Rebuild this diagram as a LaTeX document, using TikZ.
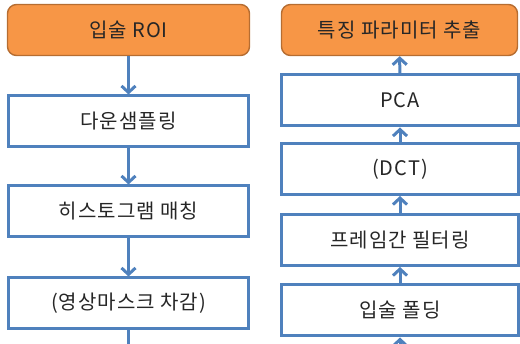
\documentclass[tikz,border=0pt]{standalone}
\usepackage{fontspec}
\setmainfont{Noto Sans CJK KR}[LetterSpace=5]
\usepackage{xcolor}
\usepackage{tikz}
\usetikzlibrary{
    positioning,
    arrows.meta
}
\definecolor{lineblue}{HTML}{4F81BD}
\definecolor{boxorange}{HTML}{F79646}
\definecolor{edgeorange}{HTML}{B66D31}

\begin{document}
\begin{tikzpicture}[
      x=1pt, y=-1pt,
      block/.style={rectangle, draw=lineblue, line width=3pt, fill=white, text centered,
          minimum height=51pt, minimum width=240pt,
          font=\fontsize{20}{23}\selectfont, text=black!85},
      hotblock/.style={rectangle, rounded corners=9pt, draw=edgeorange, line width=1.4pt,
          fill=boxorange, text centered,
          minimum height=51pt, minimum width=242pt,
          font=\fontsize{20}{23}\selectfont, text=black!85},
      arrow/.style={-{Straight Barb[length=6.5pt,width=14pt]}, draw=lineblue, line width=3pt},
      line/.style={draw=lineblue, line width=3pt}
    ]
    \useasboundingbox (0,0) rectangle (520,344);

    % left column, top to bottom
    \node[hotblock] (roi) at (128.5,30) {입술 ROI};
    \node[block] (down) at (128.5,121.5) {다운샘플링};
    \node[block] (hist) at (128.5,211.5) {히스토그램 매칭};
    \node[block] (mask) at (128.5,303.5) {(영상마스크 차감)};
    \coordinate (lout) at (128.5,350);

    % right column, bottom to top
    \node[hotblock, minimum width=236pt] (feat) at (399.5,30) {특징 파라미터 추출};
    \node[block, minimum width=237pt] (pca) at (400,100.5) {PCA};
    \node[block, minimum width=237pt] (dct) at (400,169) {(DCT)};
    \node[block, minimum width=237pt] (filt) at (400,240) {프레임간 필터링};
    \node[block, minimum width=237pt] (fold) at (400,310.5) {입술 폴딩};
    \coordinate (rin) at (400,350);

    \draw[arrow] (roi) -- (down);
    \draw[arrow] (down) -- (hist);
    \draw[arrow] (hist) -- (mask);
    \draw[line] (mask) -- (lout);

    \draw[arrow] (rin) -- (fold);
    \draw[arrow] (fold) -- (filt);
    \draw[arrow] (filt) -- (dct);
    \draw[arrow] (dct) -- (pca);
    \draw[arrow] (pca) -- (feat);
  \end{tikzpicture}
\end{document}
